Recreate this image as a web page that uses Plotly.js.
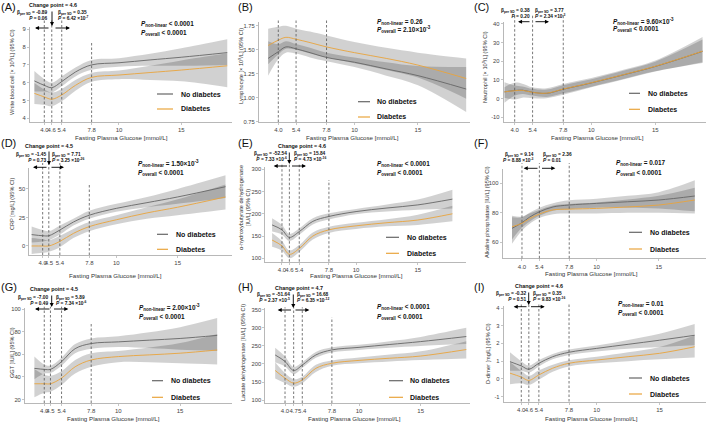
<!DOCTYPE html>
<html>
<head>
<meta charset="utf-8">
<script src="https://cdn.plot.ly/plotly-3.0.1.min.js"></script>
<style>
  html, body { margin: 0; padding: 0; background: #fff; }
  #chart { width: 708px; height: 424px; }
</style>
</head>
<body>
<div id="chart"></div>
<script>
// --- datos (glucosa en mmol/L) ---

// (A) leucocitos
const wbcX = [3.2, 4.0, 4.6, 5.4, 6.5, 7.8, 10, 12.5, 15, 18.7];
const wbcNo = [6.10, 5.85, 5.72, 6.06, 6.60, 7.00, 7.12, 7.28, 7.43, 7.69];
const wbcNoLo = [5.50, 5.50, 5.45, 5.80, 6.35, 6.72, 6.90, 6.95, 6.95, 7.00];
const wbcNoHi = [6.65, 6.20, 6.00, 6.35, 6.85, 7.28, 7.38, 7.62, 7.93, 8.44];
const wbcDia = [5.40, 5.20, 5.07, 5.31, 5.85, 6.30, 6.43, 6.57, 6.71, 6.95];
const wbcDiaLo = [4.80, 4.75, 4.68, 4.95, 5.55, 6.05, 6.20, 6.15, 6.08, 5.75];
const wbcDiaHi = [5.98, 5.62, 5.45, 5.65, 6.15, 6.55, 6.68, 6.95, 7.25, 7.65];

// (B) linfocitos
const lymX = [3.2, 4.0, 4.6, 5.4, 6.5, 7.8, 10, 12.5, 15, 18.8];
const lymNo = [1.41, 1.48, 1.53, 1.51, 1.47, 1.42, 1.37, 1.30, 1.23, 1.09];
const lymNoLo = [1.23, 1.40, 1.47, 1.46, 1.42, 1.38, 1.32, 1.23, 1.13, 0.85];
const lymNoHi = [1.59, 1.56, 1.59, 1.56, 1.52, 1.47, 1.42, 1.37, 1.33, 1.32];
const lymDia = [1.545, 1.60, 1.63, 1.61, 1.575, 1.53, 1.47, 1.41, 1.34, 1.20];
const lymDiaLo = [1.35, 1.45, 1.51, 1.50, 1.46, 1.42, 1.36, 1.29, 1.21, 0.99];
const lymDiaHi = [1.72, 1.74, 1.75, 1.72, 1.69, 1.65, 1.58, 1.52, 1.47, 1.41];

// (C) neutrofilos
const neuX = [3.2, 4.0, 4.6, 5.4, 6.5, 7.8, 10, 12.5, 15, 18.7];
const neuNo = [3.6, 4.3, 4.5, 3.4, 2.8, 5.0, 8.4, 12.7, 17.2, 25.3];
const neuNoLo = [-2.3, 1.5, 2.5, 1.6, 0.8, 2.8, 6.4, 10.5, 14.6, 19.0];
const neuNoHi = [8.8, 7.0, 6.5, 5.2, 4.8, 7.2, 10.4, 14.9, 19.8, 31.6];
const neuDia = [3.6, 4.2, 4.4, 3.3, 2.9, 5.1, 8.5, 12.8, 17.3, 25.4];
const neuDiaLo = [0.5, -0.5, 0.5, 0.2, 0.2, 2.0, 6.0, 10.2, 14.5, 19.5];
const neuDiaHi = [6.0, 8.5, 8.0, 6.0, 5.5, 7.8, 11.0, 15.4, 20.4, 33.0];

// (D) PCR
const crpX = [3.1, 4.0, 4.5, 5.4, 6.5, 7.8, 10, 12.5, 15, 18.9];
const crpNo = [10, 9, 9, 14, 21, 27, 33, 38, 43, 52];
const crpNoLo = [3, 4, 5, 10, 18, 24, 30, 34, 37, 42];
const crpNoHi = [17, 14, 13, 18, 24, 31, 37, 43, 50, 62];
const crpDia = [0, 0, 0, 4, 11, 17, 23, 29, 34, 43];
const crpDiaLo = [-7, -6, -5, -1, 7, 13, 19, 24, 27, 32];
const crpDiaHi = [7, 6, 5, 9, 15, 21, 27, 34, 41, 54];

// (E) alfa-hidroxibutirato deshidrogenasa
const hbdX = [3.2, 4.0, 4.6, 5.4, 6.5, 7.8, 10, 12.5, 15, 17.8];
const hbdNo = [175, 164, 147, 160, 183, 194, 205, 213, 220, 233];
const hbdNoLo = [160, 153, 139, 153, 176, 187, 199, 205, 209, 212];
const hbdNoHi = [190, 175, 155, 167, 190, 201, 211, 221, 232, 254];
const hbdDia = [141, 128, 109, 122, 150, 164, 173, 180, 186, 200];
const hbdDiaLo = [126, 117, 100, 114, 142, 157, 166, 172, 175, 183];
const hbdDiaHi = [157, 139, 118, 130, 158, 171, 180, 188, 198, 218];

// (F) fosfatasa alcalina
const alpX = [3.2, 4.0, 4.6, 5.4, 6.5, 7.8, 10, 12.5, 15, 17.9];
const alpNo = [69.5, 73.3, 77.0, 80.7, 84.0, 85.3, 86.4, 87.5, 88.7, 91.4];
const alpNoLo = [62, 70, 74, 78, 81.5, 82.5, 83.5, 83.5, 83, 81];
const alpNoHi = [77, 77, 80, 83.5, 86.5, 88.5, 89.5, 91.5, 94, 102];
const alpDia = [70.6, 72.9, 76.0, 79.2, 82.0, 82.5, 83.0, 84.0, 85.3, 88.7];
const alpDiaLo = [59, 68, 72.5, 76.5, 79, 79.5, 79.5, 80, 80, 79.5];
const alpDiaHi = [78, 77.5, 79.5, 82, 85, 86, 87, 89, 91.5, 97];

// (G) GGT
const ggtX = [3.2, 4.0, 4.5, 5.4, 6.5, 7.8, 10, 12.5, 15, 18.0];
const ggtNo = [47.6, 46.7, 46.7, 53.5, 65, 69.5, 71, 72.5, 74, 76.7];
const ggtNoLo = [38, 43, 43.5, 50, 61, 65, 66.5, 65.5, 64, 63];
const ggtNoHi = [58, 51, 50, 57, 69, 74, 76, 79.5, 84, 92];
const ggtDia = [34, 34, 34, 39, 49, 55, 58, 59.5, 61, 63.8];
const ggtDiaLo = [22, 26, 27, 33, 43, 49, 53, 53, 52, 51];
const ggtDiaHi = [47, 42, 41, 45, 55, 61, 63, 66, 70, 78];

// (H) lactato deshidrogenasa
const ldhX = [3.2, 4.0, 4.7, 5.4, 6.5, 7.8, 10, 12.5, 15, 18.7];
const ldhNo = [225, 207, 182, 197, 225, 239, 246, 254, 262, 276];
const ldhNoLo = [205, 193, 172, 189, 217, 232, 239, 245, 250, 255];
const ldhNoHi = [245, 221, 192, 205, 233, 246, 253, 263, 275, 300];
const ldhDia = [182, 161, 147, 156, 188, 202, 210, 216, 222, 240];
const ldhDiaLo = [160, 147, 137, 147, 178, 195, 202, 207, 211, 215];
const ldhDiaHi = [205, 175, 158, 165, 198, 210, 218, 226, 235, 263];

// (I) dimero D
const ddX = [3.1, 4.0, 4.6, 5.4, 6.5, 7.8, 10, 12.5, 15, 17.8];
const ddNo = [0.97, 0.73, 0.54, 0.88, 1.25, 1.50, 1.72, 1.95, 2.18, 2.46];
const ddNoLo = [0.45, 0.45, 0.35, 0.70, 1.10, 1.35, 1.55, 1.70, 1.80, 1.90];
const ddNoHi = [1.50, 1.00, 0.75, 1.05, 1.40, 1.65, 1.88, 2.20, 2.55, 3.10];
const ddDia = [0.32, 0.10, -0.09, 0.22, 0.60, 0.88, 1.06, 1.25, 1.44, 1.81];
const ddDiaLo = [-0.30, -0.25, -0.35, -0.05, 0.40, 0.70, 0.88, 1.00, 1.10, 1.20];
const ddDiaHi = [0.95, 0.45, 0.17, 0.48, 0.80, 1.05, 1.25, 1.50, 1.80, 2.45];

// puntos de corte (lineas discontinuas) y marcas de los ejes
const cutA = [4.0, 4.6, 5.4, 7.8];
const cutB = [4.0, 5.4, 7.8];
const cutC = [4.0, 5.4, 7.8];
const cutD = [4.0, 4.5, 5.4, 7.8];
const cutE = [4.0, 4.6, 5.4, 7.8];
const cutF = [4.0, 5.4, 7.8];
const cutG = [4.0, 4.5, 5.4, 7.8];
const cutH = [4.0, 4.7, 5.4, 7.8];
const cutI = [4.0, 4.6, 5.4, 7.8];
const extraTicks = [10, 15];

const yTicksA = [4, 5, 6, 7, 8, 9];
const yTicksB = [0.75, 1.00, 1.25, 1.50, 1.75];
const yTicksC = [-10, 0, 10, 20, 30, 40];
const yTicksD = [0, 25, 50];
const yTicksE = [100, 150, 200, 250, 300];
const yTicksF = [60, 80, 100];
const yTicksG = [20, 40, 60, 80, 100];
const yTicksH = [100, 150, 200, 250, 300, 350];
const yTicksI = [-1, 0, 1, 2, 3, 4];

const xTitle = 'Fasting Plasma Glucose [mmol/L]';

// --- estilos ---
const W = 708, H = 424;
const FONT = 'Liberation Sans, Arial, sans-serif';
const GREY = '#666666';
const ORANGE = '#e9a43c';
const BAND = 'rgba(0,0,0,0.18)';
const AXIS = '#b8b8b8';

const px = v => v / W;
const py = v => 1 - v / H;

// caja de cada panel en pixeles [izq, der, arriba, abajo], rangos, y tope de las lineas de corte
const panels = [
  { x: wbcX, no: wbcNo, noLo: wbcNoLo, noHi: wbcNoHi, dia: wbcDia, diaLo: wbcDiaLo, diaHi: wbcDiaHi,
    box: [30, 232, 27, 122], xr: [2.85, 19.08], yr: [3.79, 9.13], yt: yTicksA, dec: 0,
    cuts: cutA, cutTop: [20, 20, 20, 42] },
  { x: lymX, no: lymNo, noLo: lymNoLo, noHi: lymNoHi, dia: lymDia, diaLo: lymDiaLo, diaHi: lymDiaHi,
    box: [259, 470, 22, 122], xr: [2.48, 19.1], yr: [0.746, 1.79], yt: yTicksB, dec: 2,
    cuts: cutB, cutTop: [20, 20, 20] },
  { x: neuX, no: neuNo, noLo: neuNoLo, noHi: neuNoHi, dia: neuDia, diaLo: neuDiaLo, diaHi: neuDiaHi,
    box: [503.7, 706, 21.7, 121.7], xr: [3.14, 18.97], yr: [-12.4, 41.2], yt: yTicksC, dec: 0,
    cuts: cutC, cutTop: [15, 15, 15] },
  { x: crpX, no: crpNo, noLo: crpNoLo, noHi: crpNoHi, dia: crpDia, diaLo: crpDiaLo, diaHi: crpDiaHi,
    box: [29.3, 232, 168, 255], xr: [2.91, 19.43], yr: [-7.9, 68.4], yt: yTicksD, dec: 0,
    cuts: cutD, cutTop: [163, 163, 163, 183] },
  { x: hbdX, no: hbdNo, noLo: hbdNoLo, noHi: hbdNoHi, dia: hbdDia, diaLo: hbdDiaLo, diaHi: hbdDiaHi,
    box: [265.3, 466, 166.7, 261.7], xr: [2.65, 18.9], yr: [92.4, 305.8], yt: yTicksE, dec: 0,
    cuts: cutE, cutTop: [163, 163, 163, 180] },
  { x: alpX, no: alpNo, noLo: alpNoLo, noHi: alpNoHi, dia: alpDia, diaLo: alpDiaLo, diaHi: alpDiaHi,
    box: [502.7, 706, 169.3, 258.3], xr: [2.45, 18.8], yr: [49.2, 109.5], yt: yTicksF, dec: 0,
    cuts: cutF, cutTop: [163, 163, 163] },
  { x: ggtX, no: ggtNo, noLo: ggtNoLo, noHi: ggtNoHi, dia: ggtDia, diaLo: ggtDiaLo, diaHi: ggtDiaHi,
    box: [25, 232, 308, 403], xr: [2.44, 19.2], yr: [17, 100.9], yt: yTicksG, dec: 0,
    cuts: cutG, cutTop: [306.7, 306.7, 306.7, 324] },
  { x: ldhX, no: ldhNo, noLo: ldhNoLo, noHi: ldhNoHi, dia: ldhDia, diaLo: ldhDiaLo, diaHi: ldhDiaHi,
    box: [265.3, 470, 308, 403], xr: [2.4, 19.0], yr: [92, 355], yt: yTicksH, dec: 0,
    cuts: cutH, cutTop: [307.3, 307.3, 307.3, 317.3] },
  { x: ddX, no: ddNo, noLo: ddNoLo, noHi: ddNoHi, dia: ddDia, diaLo: ddDiaLo, diaHi: ddDiaHi,
    box: [503.7, 706, 305.7, 401.5], xr: [2.6, 18.7], yr: [-1.28, 4.13], yt: yTicksI, dec: 0,
    cuts: cutI, cutTop: [304, 304, 304, 304] }
];

// textos de cada panel (posiciones en pixeles)
const notes = [
  { tag: [0, 7, '(A)'], cp: ['Change point = 4.6', 53, 5, 52, 10, 26], arrY: 28, arr: [50, 35, 54, 70],
    bl: [48, 15.5, '-0.89', '0.06'], br: [57, '0.35', '6.42 ×10<sup>-7</sup>'],
    pv: [140, 24, 33, '&lt; 0.0001', '&lt; 0.0001'], leg: [157, 173, 180, 94, 109],
    xt: [121, 137.5], yt: [12, 72, 'White blood cell [× 10<sup>9</sup>/L] (95% CI)'] },
  { tag: [237, 7, '(B)'], pv: [376, 22, 29.5, '= 0.26', '= 2.10×10<sup>-3</sup>'], leg: [358, 370, 376, 101.7, 117],
    xt: [352, 137.5], yt: [240, 66, 'Lymphocyte [× 10<sup>9</sup>/L] (95% CI)'] },
  { tag: [473, 7, '(C)'], arrY: 21.7, arr: [531, 518, 534, 549],
    bl: [531, 13.5, '0.38', '0.20'], br: [534, '3.77', '2.34 ×10<sup>-3</sup>'],
    pv: [612, 21, 29.5, '= 9.60×10<sup>-3</sup>', '&lt; 0.0001'], leg: [629, 640, 647, 93.3, 109.3],
    xt: [597, 137.5], yt: [485, 67, 'Neutrophil [× 10<sup>9</sup>/L] (95% CI)'] },
  { tag: [0, 143, '(D)'], cp: ['Change point = 4.5', 49, 145.5, 49, 150, 165], arrY: 167.3, arr: [48, 33, 50, 64],
    bl: [47, 157.5, '-1.45', '0.73'], br: [51, '7.71', '3.25 ×10<sup>-26</sup>'],
    pv: [137, 163.3, 173, '= 1.50×10<sup>-3</sup>', '&lt; 0.0001'], leg: [157, 168, 175, 234.3, 249.3],
    xt: [116, 275], yt: [12, 204, 'CRP [mg/L] (95% CI)'] },
  { tag: [237, 143, '(E)'], cp: ['Change point = 4.6', 302, 146, 289.3, 151, 164], arrY: 166, arr: [288.5, 273.7, 290.5, 306],
    bl: [288, 156.5, '-52.54', '7.33 ×10<sup>-6</sup>'], br: [292.7, '15.84', '4.73 ×10<sup>-16</sup>'],
    pv: [376, 164, 173.3, '&lt; 0.0001', '&lt; 0.0001'], leg: [386, 399, 406, 237.3, 253.3],
    xt: [356, 275], yt: [244, 208, 'α-hydroxybutyrate dehydrogenase<br>[IU/L] (95% CI)'] },
  { tag: [473, 143, '(F)'], arrY: 168.3, arr: [539, 523.7, 540.5, 555.3],
    bl: [535, 157.5, '9.14', '8.88 ×10<sup>-3</sup>'], br: [542, '2.36', '0.01'],
    pv: [615, 162.7, 173, '= 0.017', '&lt; 0.0001'], leg: [629, 642, 649, 232.3, 249],
    xt: [591, 273], yt: [487, 212, 'Alkaline phosphatase [IU/L] (95% CI)'] },
  { tag: [0, 287, '(G)'], cp: ['Change point = 4.5', 54, 289, 51.7, 294, 307], arrY: 309, arr: [51, 35, 52.5, 68.3],
    bl: [49.3, 300.5, '-7.00', '0.49'], br: [55, '5.89', '7.34 ×10<sup>-6</sup>'],
    pv: [138, 307.3, 316.7, '= 2.00×10<sup>-3</sup>', '&lt; 0.0001'], leg: [152, 163, 170, 380.7, 397.3],
    xt: [114, 418.5], yt: [12, 353, 'GGT [IU/L] (95% CI)'] },
  { tag: [237, 287, '(H)'], cp: ['Change point = 4.7', 299, 288, 293.3, 293, 308], arrY: 310, arr: [292.5, 277.7, 294, 309.3],
    bl: [291, 297.5, '-51.64', '2.37 ×10<sup>-5</sup>'], br: [296, '16.68', '6.35 ×10<sup>-12</sup>'],
    pv: [376, 307.3, 317, '&lt; 0.0001', '&lt; 0.0001'], leg: [389, 403, 409, 380.7, 397.3],
    xt: [354, 418.5], yt: [243, 352, 'Lactate dehydrogenase [IU/L] (95% CI)'] },
  { tag: [473, 287, '(I)'], cp: ['Change point = 4.6', 539, 286, 528.7, 291, 305], arrY: 306.7, arr: [528, 513.7, 529.5, 544.7],
    bl: [527, 296.3, '-0.32', '0.51'], br: [532, '0.35', '9.83 ×10<sup>-16</sup>'],
    pv: [617, 304, 313.3, '= 0.01', '&lt; 0.0001'], leg: [629, 642, 649, 378, 394],
    xt: [591, 418.5], yt: [488, 354, 'D-dimer [mg/L] (95% CI)'] }
];

const traces = [];
const shapes = [];
const annotations = [];
const layout = {
  width: W, height: H,
  margin: { l: 0, r: 0, t: 0, b: 0 },
  paper_bgcolor: '#fff', plot_bgcolor: 'rgba(0,0,0,0)',
  showlegend: false,
  font: { family: FONT, color: '#222' }
};

function txt(x, y, text, font, xanchor, extra) {
  annotations.push(Object.assign({
    xref: 'paper', yref: 'paper', x: px(x), y: py(y), text: text, showarrow: false,
    xanchor: xanchor || 'left', yanchor: 'middle', borderpad: 0,
    font: Object.assign({ family: FONT, color: '#111' }, font)
  }, extra || {}));
}

function arrow(x0, y0, x1, y1) {
  annotations.push({
    xref: 'paper', yref: 'paper', x: px(x1), y: py(y1), ax: x0 - x1, ay: y0 - y1,
    text: '', showarrow: true, arrowhead: 2, arrowsize: 0.9, arrowwidth: 0.9,
    arrowcolor: '#000', standoff: 0, startstandoff: 0
  });
}

panels.forEach((p, i) => {
  const n = i === 0 ? '' : String(i + 1);
  const xa = 'x' + n, ya = 'y' + n;
  const [L, R, T, B] = p.box;

  const add = (y, extra) => traces.push(Object.assign({
    type: 'scatter', mode: 'lines', x: p.x, y: y, xaxis: xa, yaxis: ya, hoverinfo: 'skip',
    line: { shape: 'spline', width: 0, color: 'rgba(0,0,0,0)' }
  }, extra || {}));

  // bandas de confianza
  add(p.noLo);
  add(p.noHi, { fill: 'tonexty', fillcolor: BAND });
  add(p.diaLo);
  add(p.diaHi, { fill: 'tonexty', fillcolor: BAND });
  // curvas
  add(p.no, { line: { shape: 'spline', width: 0.9, color: GREY } });
  add(p.dia, { line: { shape: 'spline', width: 0.9, color: ORANGE } });

  const xticks = p.cuts.concat(extraTicks);
  layout['xaxis' + n] = {
    domain: [px(L), px(R)], range: p.xr, anchor: ya,
    tickmode: 'array', tickvals: xticks,
    ticktext: xticks.map(v => v >= 10 ? String(v) : v.toFixed(1)),
    tickangle: 0, showline: true, linecolor: AXIS, linewidth: 1,
    ticks: 'outside', ticklen: 2, tickcolor: AXIS, tickwidth: 0.8,
    tickfont: { family: FONT, size: 6, color: '#444' },
    showgrid: false, zeroline: false, fixedrange: true
  };
  layout['yaxis' + n] = {
    domain: [py(B), py(T)], range: p.yr, anchor: xa,
    tickmode: 'array', tickvals: p.yt,
    ticktext: p.yt.map(v => v.toFixed(p.dec)),
    showline: true, linecolor: AXIS, linewidth: 1,
    ticks: 'outside', ticklen: 2, tickcolor: AXIS, tickwidth: 0.8,
    tickfont: { family: FONT, size: 5.8, color: '#444' },
    showgrid: false, zeroline: false, fixedrange: true
  };

  // lineas discontinuas en los puntos de corte
  p.cuts.forEach((c, k) => {
    shapes.push({
      type: 'line', xref: xa, yref: 'paper', x0: c, x1: c, y0: py(B), y1: py(p.cutTop[k]),
      line: { color: '#555', width: 0.8, dash: '2.5px,2px' }
    });
  });

  const t = notes[i];
  txt(t.tag[0], t.tag[1], t.tag[2], { size: 11 }, 'left');

  if (t.cp) {
    txt(t.cp[1], t.cp[2], t.cp[0], { size: 5.4, weight: 'bold' }, 'center');
    arrow(t.cp[3], t.cp[4], t.cp[3], t.cp[5]);
  }
  if (t.arr) {
    arrow(t.arr[0], t.arrY, t.arr[1], t.arrY);
    arrow(t.arr[2], t.arrY, t.arr[3], t.arrY);
  }
  if (t.bl) {
    const bf = { size: 4.8, weight: 'bold' };
    txt(t.bl[0], t.bl[1], 'β<sub>per SD</sub> = ' + t.bl[2] + '<br><i>P</i> = ' + t.bl[3], bf, 'right', { align: 'right' });
    txt(t.br[0], t.bl[1], 'β<sub>per SD</sub> = ' + t.br[1] + '<br><i>P</i> = ' + t.br[2], bf, 'left', { align: 'left' });
  }

  const pf = { size: 6.4, weight: 'bold' };
  txt(t.pv[0], t.pv[1], '<i>P</i><sub>non-linear</sub> ' + t.pv[3], pf, 'left');
  txt(t.pv[0], t.pv[2], '<i>P</i><sub>overall</sub> ' + t.pv[4], pf, 'left');

  // leyenda dibujada a mano
  const lf = { size: 7, weight: 'bold' };
  shapes.push({ type: 'line', xref: 'paper', yref: 'paper', x0: px(t.leg[0]), x1: px(t.leg[1]),
    y0: py(t.leg[3]), y1: py(t.leg[3]), line: { color: GREY, width: 1.2 } });
  shapes.push({ type: 'line', xref: 'paper', yref: 'paper', x0: px(t.leg[0]), x1: px(t.leg[1]),
    y0: py(t.leg[4]), y1: py(t.leg[4]), line: { color: ORANGE, width: 1.2 } });
  txt(t.leg[2], t.leg[3], 'No diabetes', lf, 'left');
  txt(t.leg[2], t.leg[4], 'Diabetes', lf, 'left');

  // titulos de ejes
  txt(t.xt[0], t.xt[1], xTitle, { size: 6.2, color: '#333' }, 'center');
  txt(t.yt[0], t.yt[1], t.yt[2], { size: 5.6, color: '#333' }, 'center', { textangle: -90 });
});

layout.shapes = shapes;
layout.annotations = annotations;

Plotly.newPlot('chart', traces, layout, { displayModeBar: false, staticPlot: true });
</script>
</body>
</html>
